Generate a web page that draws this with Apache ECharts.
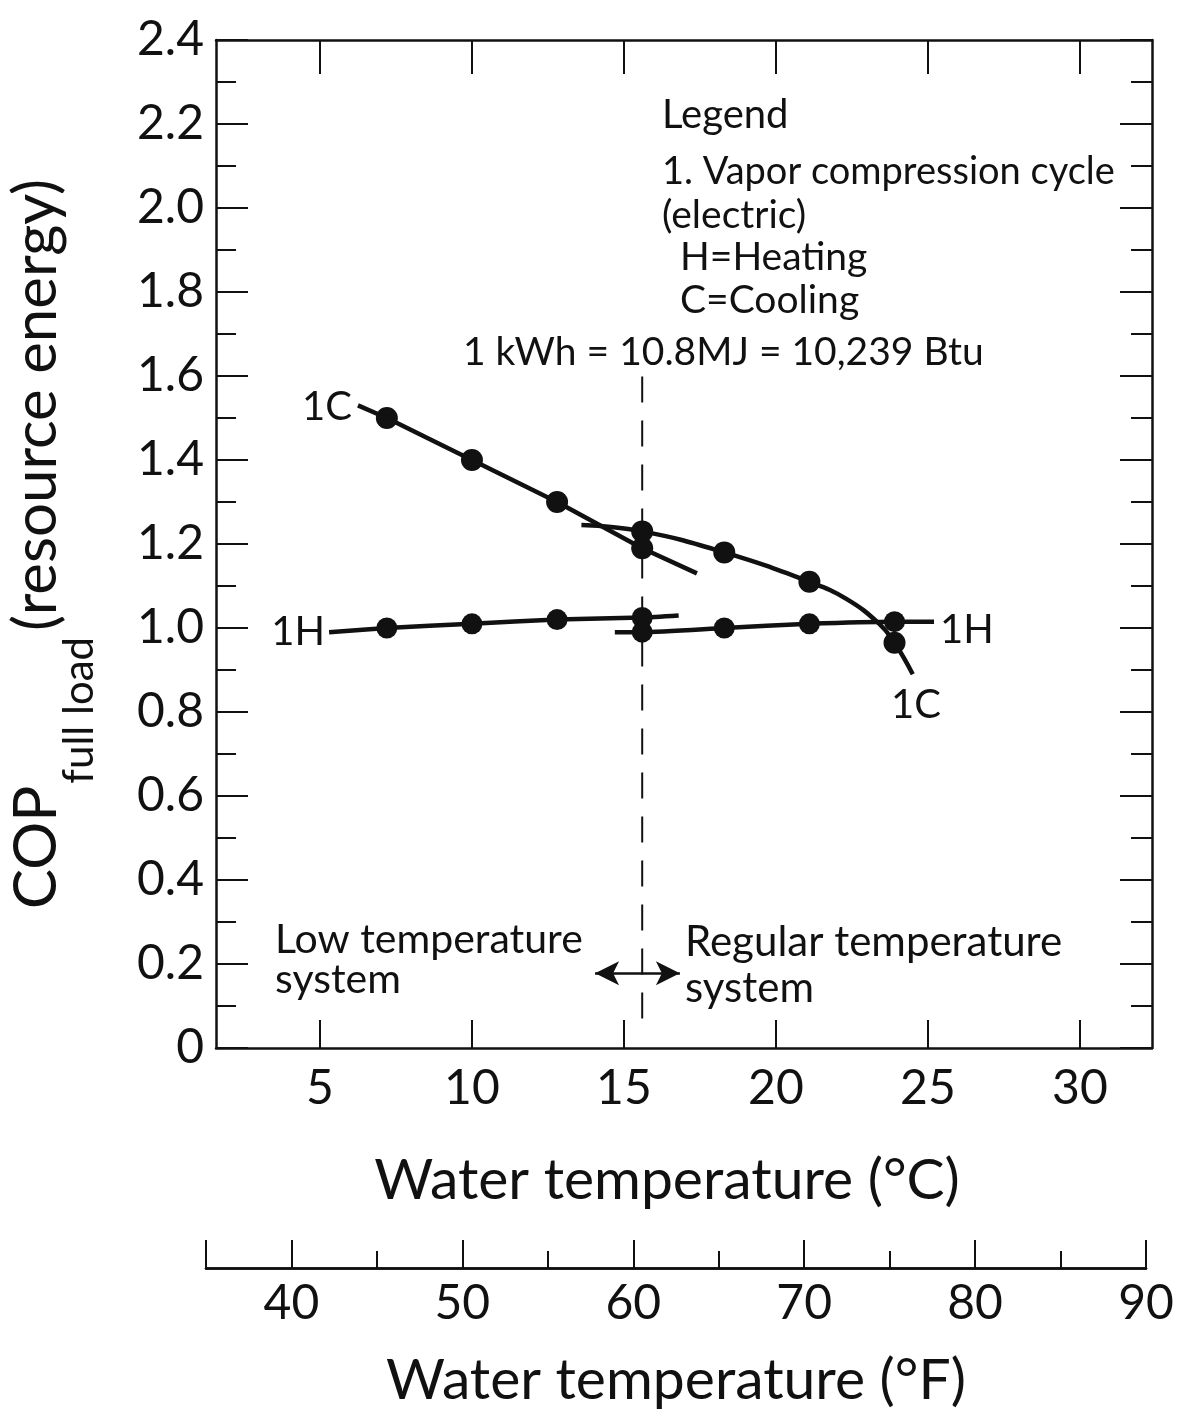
<!DOCTYPE html>
<html>
<head>
<meta charset="utf-8">
<title>COP full load vs water temperature</title>
<script src="https://cdn.jsdelivr.net/npm/echarts@6/dist/echarts.min.js"></script>
<style>
  html, body { margin: 0; padding: 0; background: #fff; }
  #main { width: 1178px; height: 1425px; }
</style>
</head>
<body>
<div id="main"></div>
<script>
// test points sit at 45, 50, ... 75 degF, given here in degC
var tempLow = [7.2, 10, 12.8, 15.6];
var tempReg = [15.6, 18.3, 21.1, 23.9];

// COP (resource energy) read at the dots
var copCoolLow = [1.50, 1.40, 1.30, 1.19];
var copCoolReg = [1.23, 1.18, 1.11, 0.965];
var copHeatLow = [1.00, 1.01, 1.02, 1.025];
var copHeatReg = [0.99, 1.00, 1.01, 1.015];

// pen lines through the dots (incl. the tails)
var lineCoolLow = [[6.25, 1.53], [7.2, 1.50], [10, 1.40], [12.8, 1.30], [15.6, 1.19], [17.4, 1.13]];
var lineCoolReg = [[13.6, 1.245], [15.6, 1.23], [18.3, 1.18], [21.1, 1.11], [22.3, 1.07], [23.4, 1.01], [23.9, 0.965], [24.5, 0.89]];
var lineHeatLow = [[5.3, 0.99], [7.2, 1.00], [10, 1.01], [12.8, 1.02], [15.6, 1.025], [16.8, 1.03]];
var lineHeatReg = [[14.7, 0.99], [15.6, 0.99], [18.3, 1.00], [21.1, 1.01], [23.9, 1.015], [25.2, 1.015]];

// border between low and regular temperature systems (60 degF)
var dividerT = 15.6;
var dividerSpan = [0.07, 1.60];
var arrowSpan = [14.05, 16.84];
var arrowLevel = 0.178;

// tick values
var cTicks = [5, 10, 15, 20, 25, 30];
var fLabels = [40, 50, 60, 70, 80, 90];
var fMajorTicks = [35, 40, 50, 60, 70, 80, 90];
var fMinorTicks = [45, 55, 65, 75, 85];

var FONT = "Lato, sans-serif";
var INK = '#111';

function pairs(xs, ys) {
    return xs.map(function (x, i) { return [x, ys[i]]; });
}

function txt(text, x, y, size, align) {
    return {
        type: 'text', x: x, y: y, silent: true,
        style: {
            text: text, fill: INK, fontSize: size, fontFamily: FONT,
            align: align || 'left', verticalAlign: 'middle'
        }
    };
}

var myChart = echarts.init(document.getElementById('main'));

var axisLine = { onZero: false, lineStyle: { color: INK, width: 2.5 } };
var tickLine = { color: INK, width: 2 };
var penLine = { color: INK, width: 4.5 };

option = {
    backgroundColor: '#fff',
    animation: false,
    grid: [
        { left: 216, right: 26, top: 40, bottom: 377, outerBoundsMode: 'none' },
        { left: 206, right: 32, top: 1267, height: 1, outerBoundsMode: 'none' }
    ],
    xAxis: [
        {
            gridIndex: 0, type: 'value', position: 'bottom', min: 1.58, max: 32.37,
            axisLine: axisLine,
            axisTick: { inside: true, length: 28, customValues: cTicks, lineStyle: tickLine },
            axisLabel: { customValues: cTicks, fontSize: 48, fontFamily: FONT, color: INK, margin: 17 },
            splitLine: { show: false },
            name: 'Water temperature (°C)', nameLocation: 'middle', nameGap: 104,
            nameTextStyle: { fontSize: 57, fontFamily: FONT, color: INK, padding: [0, 34, 0, 0] }
        },
        {
            gridIndex: 0, type: 'value', position: 'top', min: 1.58, max: 32.37,
            axisLine: axisLine,
            axisTick: { inside: true, length: 34, customValues: cTicks, lineStyle: tickLine },
            axisLabel: { show: false },
            splitLine: { show: false }
        },
        {
            gridIndex: 1, type: 'value', position: 'bottom', min: 35, max: 90,
            axisLine: axisLine,
            axisTick: { inside: true, length: 28, customValues: fMajorTicks, lineStyle: tickLine },
            axisLabel: { customValues: fLabels, fontSize: 48, fontFamily: FONT, color: INK, margin: 12 },
            splitLine: { show: false },
            name: 'Water temperature (°F)', nameLocation: 'middle', nameGap: 84,
            nameTextStyle: { fontSize: 57, fontFamily: FONT, color: INK }
        },
        {
            gridIndex: 1, type: 'value', position: 'bottom', min: 35, max: 90,
            axisLine: axisLine,
            axisTick: { inside: true, length: 17, customValues: fMinorTicks, lineStyle: tickLine },
            axisLabel: { show: false },
            splitLine: { show: false }
        }
    ],
    yAxis: [
        {
            gridIndex: 0, type: 'value', position: 'left', min: 0, max: 2.4, interval: 0.2,
            axisLine: axisLine,
            axisTick: { inside: true, length: 32, lineStyle: tickLine },
            minorTick: { show: true, splitNumber: 2, length: 20, lineStyle: tickLine },
            axisLabel: {
                fontSize: 48, fontFamily: FONT, color: INK, margin: 12,
                formatter: function (v) { return v === 0 ? '0' : v.toFixed(1); }
            },
            splitLine: { show: false },
            name: '{m|COP}{s|full load}{m|(resource energy)}',
            nameLocation: 'middle', nameGap: 144,
            nameTextStyle: {
                color: INK,
                rich: {
                    m: { fontSize: 60, fontFamily: FONT, color: INK, lineHeight: 70 },
                    s: { fontSize: 42, fontFamily: FONT, color: INK, lineHeight: 42, padding: [84, 6, 0, 2] }
                }
            }
        },
        {
            gridIndex: 0, type: 'value', position: 'right', min: 0, max: 2.4, interval: 0.2,
            axisLine: axisLine,
            axisTick: { inside: true, length: 32, lineStyle: tickLine },
            minorTick: { show: true, splitNumber: 2, length: 21, lineStyle: tickLine },
            axisLabel: { show: false },
            splitLine: { show: false }
        },
        { gridIndex: 1, type: 'value', show: false, min: 0, max: 1 }
    ],
    series: [
        { name: '1C low', type: 'line', data: lineCoolLow, symbol: 'none', lineStyle: penLine, z: 3 },
        { name: '1C regular', type: 'line', data: lineCoolReg, symbol: 'none', smooth: 0.45, lineStyle: penLine, z: 3 },
        { name: '1H low', type: 'line', data: lineHeatLow, symbol: 'none', smooth: 0.2, lineStyle: penLine, z: 3 },
        { name: '1H regular', type: 'line', data: lineHeatReg, symbol: 'none', smooth: 0.2, lineStyle: penLine, z: 3 },
        {
            name: 'cooling points', type: 'scatter', symbolSize: 22, z: 4,
            itemStyle: { color: INK, opacity: 1 },
            data: pairs(tempLow, copCoolLow).concat(pairs(tempReg, copCoolReg))
        },
        {
            name: 'heating points', type: 'scatter', symbolSize: 21, z: 4,
            itemStyle: { color: INK, opacity: 1 },
            data: pairs(tempLow, copHeatLow).concat(pairs(tempReg, copHeatReg))
        },
        {
            name: 'divider', type: 'line', symbol: 'none', z: 2,
            data: [[dividerT, dividerSpan[0]], [dividerT, dividerSpan[1]]],
            lineStyle: { color: INK, width: 2, type: [26, 18] },
            markLine: {
                silent: true, symbol: ['arrow', 'arrow'], symbolSize: [18, 24],
                label: { show: false },
                lineStyle: { color: INK, width: 2.5, type: 'solid' },
                data: [[{ coord: [arrowSpan[0], arrowLevel] }, { coord: [arrowSpan[1], arrowLevel] }]]
            }
        }
    ],
    graphic: [
        txt('Legend', 662, 115, 40),
        txt('1. Vapor compression cycle', 662, 172, 38),
        txt('(electric)', 662, 215, 39),
        txt('H=Heating', 680, 257, 39),
        txt('C=Cooling', 680, 300, 39),
        txt('1 kWh = 10.8MJ = 10,239 Btu', 463, 352, 39),
        txt('Low temperature', 275, 940, 41),
        txt('system', 275, 980, 41),
        txt('Regular temperature', 685, 942, 42),
        txt('system', 685, 988, 42),
        txt('1C', 352, 407, 40, 'right'),
        txt('1H', 325, 632, 40, 'right'),
        txt('1H', 940, 630, 40),
        txt('1C', 916, 705, 40, 'center')
    ]
};

myChart.setOption(option);
</script>
</body>
</html>
